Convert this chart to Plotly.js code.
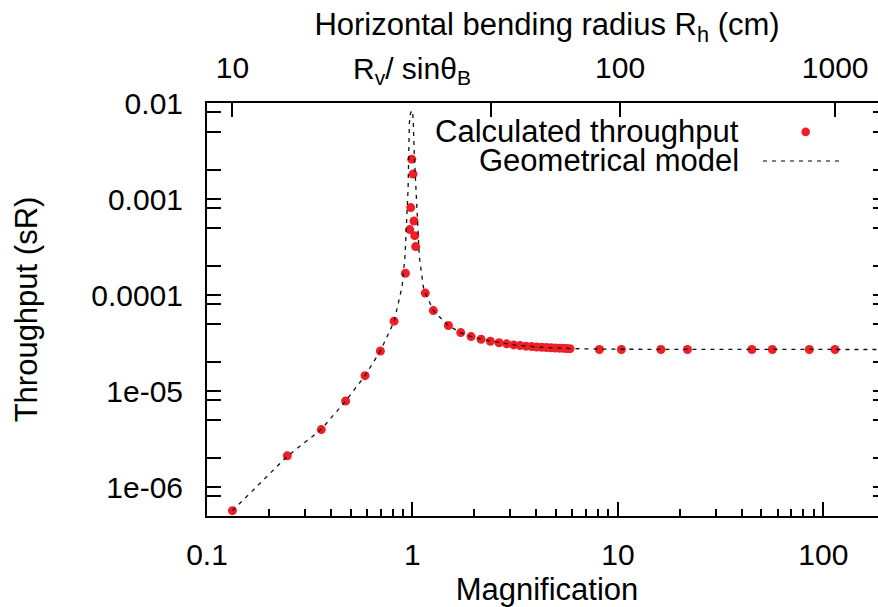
<!DOCTYPE html>
<html>
<head>
<meta charset="utf-8">
<script src="https://cdn.plot.ly/plotly-3.0.1.min.js"></script>
<style>
html,body{margin:0;padding:0;overflow:hidden;background:#fff;}
#chart{width:890px;height:607px;}
</style>
</head>
<body>
<div id="chart"></div>
<script>
// Calculated throughput (red dots)
const magnification = [
  0.133, 0.246, 0.360, 0.473, 0.588, 0.698, 0.814, 0.924,
  0.970, 0.981, 0.992, 1.007, 1.018, 1.026, 1.037,
  1.155, 1.264, 1.496, 1.718, 1.929, 2.158, 2.395, 2.640, 2.877, 3.110,
  3.340, 3.570, 3.800, 4.030, 4.260, 4.490, 4.720, 4.950, 5.180, 5.410, 5.630, 5.850,
  8.13, 10.4, 16.2, 21.8, 44.9, 56.5, 85.5, 114
];
const throughput = [
  5.7e-7, 2.12e-6, 3.98e-6, 7.9e-6, 1.45e-5, 2.62e-5, 5.35e-5, 1.69e-4,
  4.81e-4, 8.15e-4, 2.60e-3, 1.82e-3, 5.91e-4, 4.16e-4, 3.20e-4,
  1.05e-4, 6.9e-5, 4.82e-5, 4.07e-5, 3.70e-5, 3.47e-5, 3.31e-5, 3.19e-5, 3.11e-5, 3.03e-5,
  2.98e-5, 2.94e-5, 2.91e-5, 2.88e-5, 2.86e-5, 2.84e-5, 2.83e-5, 2.81e-5, 2.80e-5, 2.79e-5, 2.78e-5, 2.77e-5,
  2.71e-5, 2.71e-5, 2.71e-5, 2.71e-5, 2.71e-5, 2.71e-5, 2.71e-5, 2.71e-5
];
// Geometrical model (dashed line)
const modelMag = [
  0.133, 0.246, 0.360, 0.473, 0.588, 0.698, 0.814, 0.858, 0.890, 0.920, 0.938, 0.952, 0.959, 0.966, 0.978, 0.995,
  1.004, 1.010, 1.022, 1.038, 1.056, 1.080, 1.130, 1.155, 1.264, 1.496, 1.718, 1.929, 2.158, 2.640, 3.110, 4.030, 5.850,
  10, 30, 250
];
const modelThr = [
  5.7e-7, 2.1e-6, 4.0e-6, 7.9e-6, 1.45e-5, 2.62e-5, 5.3e-5, 8.5e-5, 1.22e-4, 2.52e-4, 5.6e-4, 1.245e-3, 2.76e-3, 6.15e-3, 7.8e-3, 8.4e-3,
  7.8e-3, 6.15e-3, 2.76e-3, 1.245e-3, 5.6e-4, 2.52e-4, 1.22e-4, 1.05e-4, 6.9e-5, 4.8e-5, 4.07e-5, 3.7e-5, 3.47e-5, 3.19e-5, 3.03e-5, 2.88e-5, 2.77e-5,
  2.73e-5, 2.71e-5, 2.71e-5
];

// Tick labels
const xTickVals = [0.1, 1, 10, 100];
const xTickText = ['0.1', '1', '10', '100'];
const xMinorVals = [0.2,0.3,0.4,0.5,0.6,0.7,0.8,0.9, 2,3,4,5,6,7,8,9, 20,30,40,50,60,70,80,90, 200];
const yTickVals = [1e-6, 1e-5, 1e-4, 1e-3, 1e-2];
const yTickText = ['1e-06', '1e-05', '0.0001', '0.001', '0.01'];
const yMinorVals = [8e-7, 2e-6,5e-6,8e-6, 2e-5,5e-5,8e-5, 2e-4,5e-4,8e-4, 2e-3,5e-3,8e-3];
// Top axis: horizontal bending radius, ticks placed at the magnification they correspond to
const topTickMag = [0.133, 2.40, 10.25, 114.2];
const topTickText = ['10', ' ', '100', '1000'];
const topSpecialMag = 1;
const topSpecialText = 'R<sub>v</sub>/ sinθ<sub>B</sub>';

const FONT = 'Liberation Sans, Arial, Helvetica, sans-serif';
const FS = 30;
const FT = 31;

const traces = [
  {
    x: magnification, y: throughput, type: 'scatter', mode: 'markers',
    name: 'Calculated throughput',
    marker: {color: '#ee1f25', size: 9, line: {width: 0}},
    xaxis: 'x', yaxis: 'y', showlegend: false
  },
  {
    x: modelMag, y: modelThr, type: 'scatter', mode: 'lines',
    name: 'Geometrical model',
    line: {color: '#111', width: 1.3, dash: '4px,5px'},
    xaxis: 'x', yaxis: 'y', showlegend: false
  },
  {
    x: [topTickMag[2]], y: [1e-3], type: 'scatter', mode: 'markers',
    marker: {opacity: 0}, xaxis: 'x2', yaxis: 'y', showlegend: false, hoverinfo: 'skip'
  }
];

const xrange = [-1, 2.31];
const layout = {
  width: 890, height: 607,
  margin: {l: 207, r: 3, t: 103, b: 91, pad: 0},
  paper_bgcolor: '#fff', plot_bgcolor: '#fff',
  font: {family: FONT, size: FS, color: '#000'},
  showlegend: false,
  xaxis: {
    type: 'log', range: xrange, showgrid: false, zeroline: false,
    showline: true, linecolor: '#000', linewidth: 2, mirror: false,
    ticks: 'inside', ticklen: 14, tickwidth: 2, tickcolor: '#000',
    tickmode: 'array', tickvals: xTickVals, ticktext: xTickText,
    ticklabelstandoff: 11,
    minor: {tickmode: 'array', tickvals: xMinorVals, ticks: 'inside', ticklen: 7, tickwidth: 2, tickcolor: '#000', showgrid: false},
    tickfont: {family: FONT, size: FS, color: '#000'},
    title: {text: 'Magnification', font: {family: FONT, size: FT, color: '#000'}, standoff: 15}
  },
  xaxis2: {
    type: 'log', range: xrange, overlaying: 'x', side: 'top', anchor: 'y',
    showgrid: false, zeroline: false,
    showline: true, linecolor: '#000', linewidth: 2,
    ticks: 'inside', ticklen: 14, tickwidth: 2, tickcolor: '#000',
    tickmode: 'array', tickvals: topTickMag, ticktext: topTickText,
    ticklabelstandoff: 11,
    tickfont: {family: FONT, size: FS, color: '#000'},
    title: {text: 'Horizontal bending radius R<sub>h</sub> (cm)', font: {family: FONT, size: FT, color: '#000'}, standoff: 6}
  },
  yaxis: {
    type: 'log', range: [-6.3, -2], showgrid: false, zeroline: false,
    showline: true, linecolor: '#000', linewidth: 2, mirror: 'allticks',
    ticks: 'inside', ticklen: 14, tickwidth: 2, tickcolor: '#000',
    tickmode: 'array', tickvals: yTickVals, ticktext: yTickText,
    ticklabelstandoff: 16,
    minor: {tickmode: 'array', tickvals: yMinorVals, ticks: 'inside', ticklen: 7, tickwidth: 2, tickcolor: '#000', showgrid: false},
    tickfont: {family: FONT, size: FS, color: '#000'},
    title: {text: 'Throughput (sR)', font: {family: FONT, size: FT, color: '#000'}, standoff: 44}
  },
  annotations: [
    {x: Math.log10(topSpecialMag), y: 1.078, xref: 'x', yref: 'paper', text: topSpecialText,
     showarrow: false, xanchor: 'center', yanchor: 'middle', font: {family: FONT, size: FS, color: '#000'}},
    {x: 0.786, y: 0.93, xref: 'paper', yref: 'paper', text: 'Calculated throughput',
     showarrow: false, xanchor: 'right', yanchor: 'middle', font: {family: FONT, size: FT, color: '#000'}},
    {x: 0.786, y: 0.8596, xref: 'paper', yref: 'paper', text: 'Geometrical model',
     showarrow: false, xanchor: 'right', yanchor: 'middle', font: {family: FONT, size: FT, color: '#000'}}
  ],
  shapes: [
    {type: 'circle', xref: 'paper', yref: 'paper', xsizemode: 'pixel', ysizemode: 'pixel',
     xanchor: 0.8804, yanchor: 0.93, x0: -4.3, x1: 4.3, y0: -4.3, y1: 4.3,
     fillcolor: '#ee1f25', line: {width: 0}},
    {type: 'line', xref: 'paper', yref: 'paper', x0: (763-207)/680, x1: (843-207)/680, y0: 0.8596, y1: 0.8596,
     line: {color: '#555', width: 1.3, dash: '4px,5px'}}
  ]
};

Plotly.newPlot('chart', traces, layout, {staticPlot: true, displayModeBar: false});
</script>
</body>
</html>
